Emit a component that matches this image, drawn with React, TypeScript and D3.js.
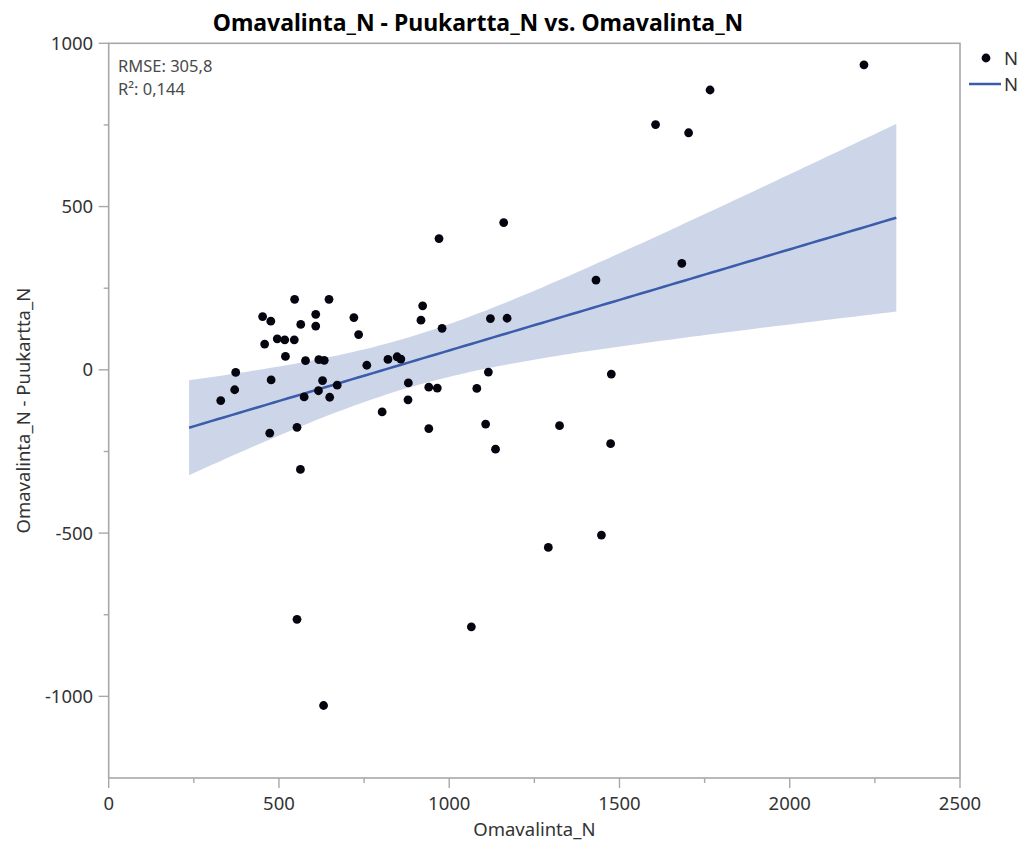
import React from "react";
import * as d3 from "d3";

// Omavalinta_N values (x)
const omavalinta: number[] = [
  329, 370, 373, 452, 458, 476, 473, 477, 495, 517, 519, 545, 546, 553, 553, 563,
  564, 574, 578, 608, 608, 617, 616, 628, 633, 631, 647, 649, 671, 720, 734, 758,
  803, 820, 847, 858, 880, 879, 917, 922, 940, 940, 965, 970, 979, 1065, 1081, 1107,
  1115, 1121, 1136, 1160, 1170, 1291, 1324, 1431, 1447, 1476, 1474, 1606, 1683, 1703,
  1766, 2218,
];
// Omavalinta_N - Puukartta_N values (y)
const difference: number[] = [
  -94, -61, -8, 163, 79, 149, -194, -31, 95, 92, 41, 92, 216, -176, -764, -305,
  139, -83, 28, 170, 134, 31, -64, -33, 29, -1028, 216, -84, -47, 160, 108, 14,
  -129, 32, 40, 33, -40, -92, 152, 196, -53, -180, -56, 402, 127, -787, -57, -166,
  -7, 157, -243, 451, 158, -544, -171, 275, -506, -13, -226, 751, 326, 726,
  857, 934,
];

const xTicks: number[] = [0, 500, 1000, 1500, 2000, 2500];
const xMinorTicks: number[] = [250, 750, 1250, 1750, 2250];
const yTicks: number[] = [1000, 500, 0, -500, -1000];
const yMinorTicks: number[] = [750, 250, -250, -750];
const fitRange: number[] = [236, 2313];
const statLines: string[] = ["RMSE: 305,8", "R²: 0,144"];
const tValue = 1.999;

const FONT = "'Noto Sans', 'Open Sans', 'DejaVu Sans', sans-serif";

export default function App() {
  const W = 1026;
  const H = 844;
  const left = 108.7;
  const right = 960;
  const top = 43.3;
  const bottom = 778;

  const x = d3.scaleLinear().domain([0, 2500]).range([left, right]);
  const y = d3.scaleLinear().domain([-1250, 1000]).range([bottom, top]);

  // regression
  const n = omavalinta.length;
  const mx = d3.mean(omavalinta)!;
  const my = d3.mean(difference)!;
  let sxx = 0;
  let sxy = 0;
  for (let i = 0; i < n; i++) {
    sxx += (omavalinta[i] - mx) ** 2;
    sxy += (omavalinta[i] - mx) * (difference[i] - my);
  }
  const b = sxy / sxx;
  const a = my - b * mx;
  let sse = 0;
  for (let i = 0; i < n; i++) sse += (difference[i] - a - b * omavalinta[i]) ** 2;
  const s = Math.sqrt(sse / (n - 2));

  const xs = d3.range(0, 101).map((i) => fitRange[0] + ((fitRange[1] - fitRange[0]) * i) / 100);
  const bandData = xs.map((xv) => {
    const fit = a + b * xv;
    const hw = tValue * s * Math.sqrt(1 / n + (xv - mx) ** 2 / sxx);
    return { xv, fit, lo: fit - hw, hi: fit + hw };
  });

  const area = d3
    .area<{ xv: number; lo: number; hi: number }>()
    .x((d) => x(d.xv))
    .y0((d) => y(d.lo))
    .y1((d) => y(d.hi));
  const line = d3
    .line<{ xv: number; fit: number }>()
    .x((d) => x(d.xv))
    .y((d) => y(d.fit));

  const axisColor = "#a8a8a8";
  const textColor = "#333333";

  return (
    <svg
      width={W}
      height={H}
      style={{ position: "absolute", left: 0, top: 0, background: "#fff" }}
      fontFamily={FONT}
    >
      <text x={478} y={30.5} textAnchor="middle" fontSize={23} fontWeight="bold" fill="#000">
        Omavalinta_N - Puukartta_N vs. Omavalinta_N
      </text>

      {/* band and fit line */}
      <path d={area(bandData) ?? ""} fill="#cdd6e9" stroke="none" />
      <path d={line(bandData) ?? ""} fill="none" stroke="#3b5bab" strokeWidth={2.5} />

      {/* points */}
      {omavalinta.map((xv, i) => (
        <circle key={i} cx={x(xv)} cy={y(difference[i])} r={4.4} fill="#050510" />
      ))}

      {/* frame */}
      <rect
        x={left}
        y={top}
        width={right - left}
        height={bottom - top}
        fill="none"
        stroke={axisColor}
        strokeWidth={1.6}
      />

      {/* y ticks */}
      {yTicks.map((t) => (
        <g key={"y" + t}>
          <line x1={left - 10} x2={left} y1={y(t)} y2={y(t)} stroke={axisColor} strokeWidth={1.4} />
          <text x={left - 15.5} y={y(t)} dy="0.36em" textAnchor="end" fontSize={18.5} fill={textColor}>
            {t}
          </text>
        </g>
      ))}
      {yMinorTicks.map((t) => (
        <line key={"ym" + t} x1={left - 5} x2={left} y1={y(t)} y2={y(t)} stroke={axisColor} strokeWidth={1.4} />
      ))}

      {/* x ticks */}
      {xTicks.map((t) => (
        <g key={"x" + t}>
          <line x1={x(t)} x2={x(t)} y1={bottom} y2={bottom + 10} stroke={axisColor} strokeWidth={1.4} />
          <text x={x(t)} y={bottom + 32} textAnchor="middle" fontSize={18.5} fill={textColor}>
            {t}
          </text>
        </g>
      ))}
      {xMinorTicks.map((t) => (
        <line key={"xm" + t} x1={x(t)} x2={x(t)} y1={bottom} y2={bottom + 5} stroke={axisColor} strokeWidth={1.4} />
      ))}

      {/* axis titles */}
      <text x={(left + right) / 2} y={836} textAnchor="middle" fontSize={18.5} fill={textColor}>
        Omavalinta_N
      </text>
      <text
        transform={`translate(30, ${(top + bottom) / 2}) rotate(-90)`}
        textAnchor="middle"
        fontSize={18.5}
        fill={textColor}
      >
        Omavalinta_N - Puukartta_N
      </text>

      {/* stats */}
      {statLines.map((s2, i) => (
        <text key={s2} x={118} y={72 + i * 23} fontSize={16.5} fill="#4a4a4a">
          {s2}
        </text>
      ))}

      {/* legend */}
      <circle cx={986} cy={58} r={4.4} fill="#050510" />
      <text x={1004} y={58} dy="0.36em" fontSize={18.5} fill={textColor}>
        N
      </text>
      <line x1={969} x2={1001} y1={84} y2={84} stroke="#3b5bab" strokeWidth={2.5} />
      <text x={1004} y={84} dy="0.36em" fontSize={18.5} fill={textColor}>
        N
      </text>
    </svg>
  );
}
